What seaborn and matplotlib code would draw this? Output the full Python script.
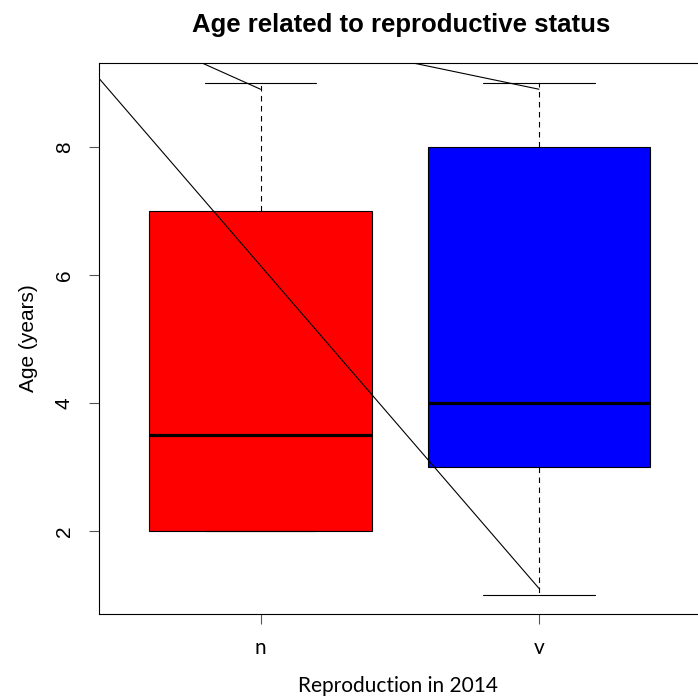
import matplotlib
matplotlib.use("Agg")
import matplotlib.pyplot as plt
import seaborn as sns
import pandas as pd

# ages per reproductive group (chosen to give the drawn five-number summaries)
age_n = [2, 2, 2, 3, 4, 7, 7, 9]
age_v = [1, 3, 3, 4, 4, 8, 8, 9]
groups = ["n", "v"]
box_colors = ["#FF0000", "#0000FF"]

# extra line segments drawn over the boxes (category position, age)
seg_a_x = [-0.58, 1.0]
seg_a_y = [9.07, 1.10]
seg_b_x = [-0.21, 0.0]
seg_b_y = [9.31, 8.90]
seg_c_x = [0.548, 1.0]
seg_c_y = [9.31, 8.90]

df = pd.DataFrame({
    "repro": ["n"] * len(age_n) + ["v"] * len(age_v),
    "age": age_n + age_v,
})

sns.set_style("white")
plt.rcParams["font.family"] = ["Liberation Sans", "DejaVu Sans"]
plt.rcParams["text.color"] = "black"
plt.rcParams["axes.labelcolor"] = "black"
plt.rcParams["xtick.color"] = "black"
plt.rcParams["ytick.color"] = "black"

fig = plt.figure(figsize=(6.98, 6.96), dpi=100)
ax = fig.add_axes([99 / 698, 82 / 696, 1 - 99 / 698, 551 / 696])

sns.boxplot(
    data=df, x="repro", y="age", hue="repro", order=groups, hue_order=groups,
    palette=box_colors, saturation=1, width=0.8, linecolor="black",
    linewidth=0.8, legend=False, ax=ax,
    medianprops=dict(linewidth=2.3, color="black"),
    whiskerprops=dict(linestyle=(0, (5, 4)), linewidth=0.8),
    capprops=dict(linewidth=0.8),
)

for xs, ys in [(seg_a_x, seg_a_y), (seg_b_x, seg_b_y), (seg_c_x, seg_c_y)]:
    ax.plot(xs, ys, color="black", linewidth=0.8, zorder=5)

ax.set_xlim(-0.58, 1.571)
ax.set_ylim(0.70, 9.31)
ax.set_yticks([2, 4, 6, 8])
ax.set_yticklabels(["2", "4", "6", "8"], rotation=90, va="center", fontsize=15)
ax.set_xticks([0, 1])
ax.set_xticklabels(groups, fontsize=15, family="Lato")
ax.tick_params(axis="both", length=7, width=0.8, direction="out",
               left=True, bottom=True)
ax.tick_params(axis="both", color="#555555")
ax.tick_params(axis="y", pad=11)
ax.tick_params(axis="x", pad=10)
ax.set_xlabel("Reproduction in 2014", fontsize=15, family="Lato", labelpad=13)
ax.set_ylabel("Age (years)", fontsize=15, labelpad=12)
for side in ["left", "bottom", "top"]:
    ax.spines[side].set_color("black")
    ax.spines[side].set_linewidth(0.8)
ax.spines["right"].set_visible(False)

fig.text(401 / 698, 1 - 25 / 696, "Age related to reproductive status",
         ha="center", va="center", fontsize=18.5, fontweight="bold")

fig.savefig("out.png", dpi=100)
